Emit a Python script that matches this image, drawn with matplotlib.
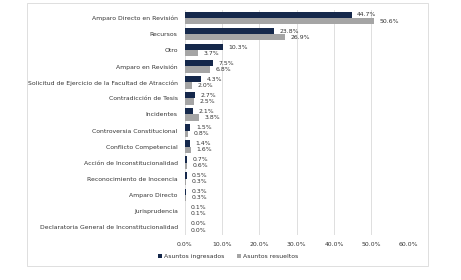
import matplotlib
matplotlib.use("Agg")
import matplotlib.pyplot as plt
import numpy as np
from matplotlib.patches import Rectangle

categorias = [
    "Amparo Directo en Revisión",
    "Recursos",
    "Otro",
    "Amparo en Revisión",
    "Solicitud de Ejercicio de la Facultad de Atracción",
    "Contradicción de Tesis",
    "Incidentes",
    "Controversia Constitucional",
    "Conflicto Competencial",
    "Acción de Inconstitucionalidad",
    "Reconocimiento de Inocencia",
    "Amparo Directo",
    "Jurisprudencia",
    "Declaratoria General de Inconstitucionalidad",
]
ingresados = [44.7, 23.8, 10.3, 7.5, 4.3, 2.7, 2.1, 1.5, 1.4, 0.7, 0.5, 0.3, 0.1, 0.0]
resueltos = [50.6, 26.9, 3.7, 6.8, 2.0, 2.5, 3.8, 0.8, 1.6, 0.6, 0.3, 0.3, 0.1, 0.0]
ticks_x = [0, 10, 20, 30, 40, 50, 60]

color_ing = "#15284b"
color_res = "#a5a5a5"
txt_color = "#333333"
fs = 4.4

fig = plt.figure(figsize=(4.61, 2.80), dpi=100)
ax = fig.add_axes([0.4006, 0.161, 0.486, 0.803])

y = np.arange(len(categorias))
h = 0.39
ax.barh(y - h / 2, ingresados, height=h, color=color_ing, label="Asuntos ingresados", zorder=3)
ax.barh(y + h / 2, resueltos, height=h, color=color_res, label="Asuntos resueltos", zorder=3)

for i in range(len(categorias)):
    ax.annotate(f"{ingresados[i]:.1f}%", xy=(ingresados[i], y[i] - h / 2), xytext=(4, 0),
                textcoords="offset points", va="center", ha="left", fontsize=fs, color=txt_color)
    ax.annotate(f"{resueltos[i]:.1f}%", xy=(resueltos[i], y[i] + h / 2), xytext=(4, 0),
                textcoords="offset points", va="center", ha="left", fontsize=fs, color=txt_color)

ax.set_xlim(0, 60)
ax.set_ylim(len(categorias) - 0.5, -0.5)
ax.set_xticks(ticks_x)
ax.set_xticklabels([f"{t:.1f}%" for t in ticks_x], fontsize=fs, color=txt_color)
ax.set_yticks(y)
ax.set_yticklabels(categorias, fontsize=fs, color=txt_color)
ax.tick_params(length=0, pad=5)
ax.grid(axis="x", color="#d9d9d9", linewidth=0.6, zorder=0)
for s in ax.spines.values():
    s.set_visible(False)

ax.legend(loc="upper center", bbox_to_anchor=(0.193, -0.06), ncol=2, frameon=False,
          fontsize=fs, handlelength=0.7, handleheight=0.7, columnspacing=2.0, handletextpad=0.3,
          labelcolor=txt_color)

fig.patches.append(Rectangle((27 / 461, 1 - 266 / 280), 401 / 461, 263 / 280,
                             transform=fig.transFigure, fill=False, edgecolor="#d9d9d9",
                             linewidth=0.6))

fig.savefig("out.png", dpi=100)
